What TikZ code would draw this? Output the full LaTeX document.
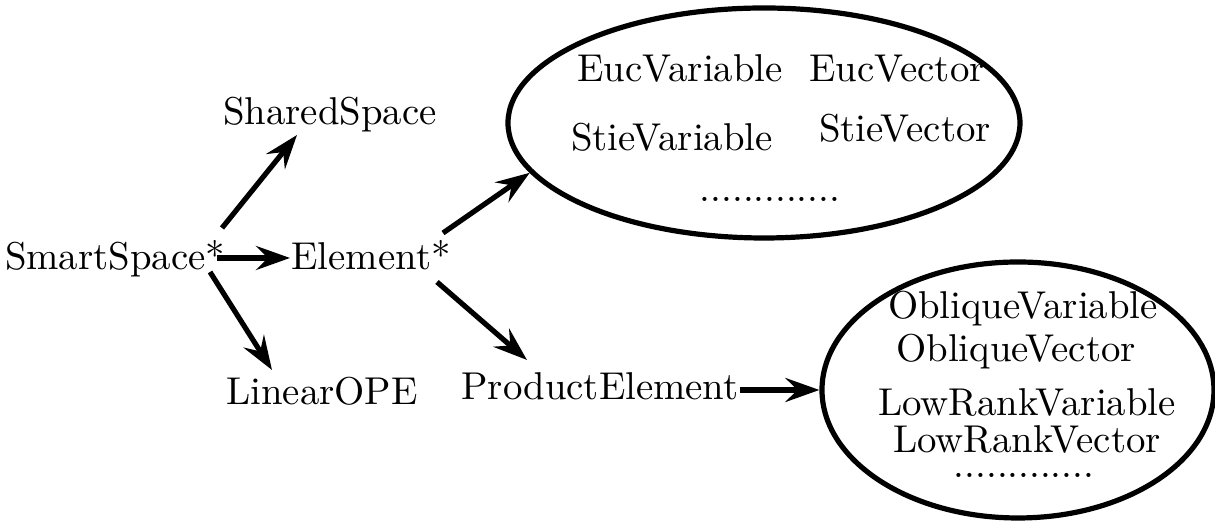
\documentclass[tikz,border=0pt]{standalone}
\usetikzlibrary{arrows.meta,shapes.geometric,calc}
\begin{document}
\begin{tikzpicture}[x=0.25pt,y=-0.25pt,
  txt/.style={anchor=base,inner sep=0pt,font=\fontsize{9.7}{11.5}\selectfont},
  arr/.style={-{Stealth[length=8.5pt,width=6pt,inset=3pt]},line width=1.3pt},
  blob/.style={draw,ellipse,line width=1.3pt,inner sep=0pt}]
\useasboundingbox (0,0) rectangle (1215,521);
% main nodes
\node[txt] (ss) at (115,270) {SmartSpace*};
\node[txt] (sh) at (330,125) {SharedSpace};
\node[txt] (el) at (371,270) {Element*};
\node[txt] (lo) at (322,405) {LinearOPE};
\node[txt] (pe) at (600,400) {ProductElement};
% ellipses
\node[blob,minimum width=128pt,minimum height=57.5pt] (e1) at (764,123) {};
\node[blob,minimum width=98pt,minimum height=64pt] (e2) at (1018,390) {};
% ellipse contents
\node[txt] (ev) at (680,82) {EucVariable};
\node[txt] (ec) at (897,82) {EucVector};
\node[txt] (sv) at (672,151) {StieVariable};
\node[txt] (sc) at (905,142) {StieVector};
\node[txt] (d1) at (770,202) {.............};
\node[txt] (ov) at (1023,319) {ObliqueVariable};
\node[txt] (oc) at (1016,362) {ObliqueVector};
\node[txt,align=center,font=\fontsize{9.7}{9.25}\selectfont] (lr) at (1027,453) {LowRankVariable\\LowRankVector};
\node[txt] (d2) at (1024,478) {.............};
% connectors
\draw[arr] ($(ss.base)+(107,-42)$) -- ($(sh.base)+(-33,10)$);
\draw[arr] ($(ss.base)+(102,-12)$) -- ($(el.base)+(-81,-12)$);
\draw[arr] ($(ss.base)+(95,2)$) -- ($(lo.base)+(-50,-35)$);
\draw[arr] ($(el.base)+(72,-37)$) -- (e1.192);
\draw[arr] ($(el.base)+(66,12)$) -- ($(pe.base)+(-73,-40)$);
\draw[arr] ($(pe.base)+(140,-10)$) -- (e2.west);
\end{tikzpicture}
\end{document}
